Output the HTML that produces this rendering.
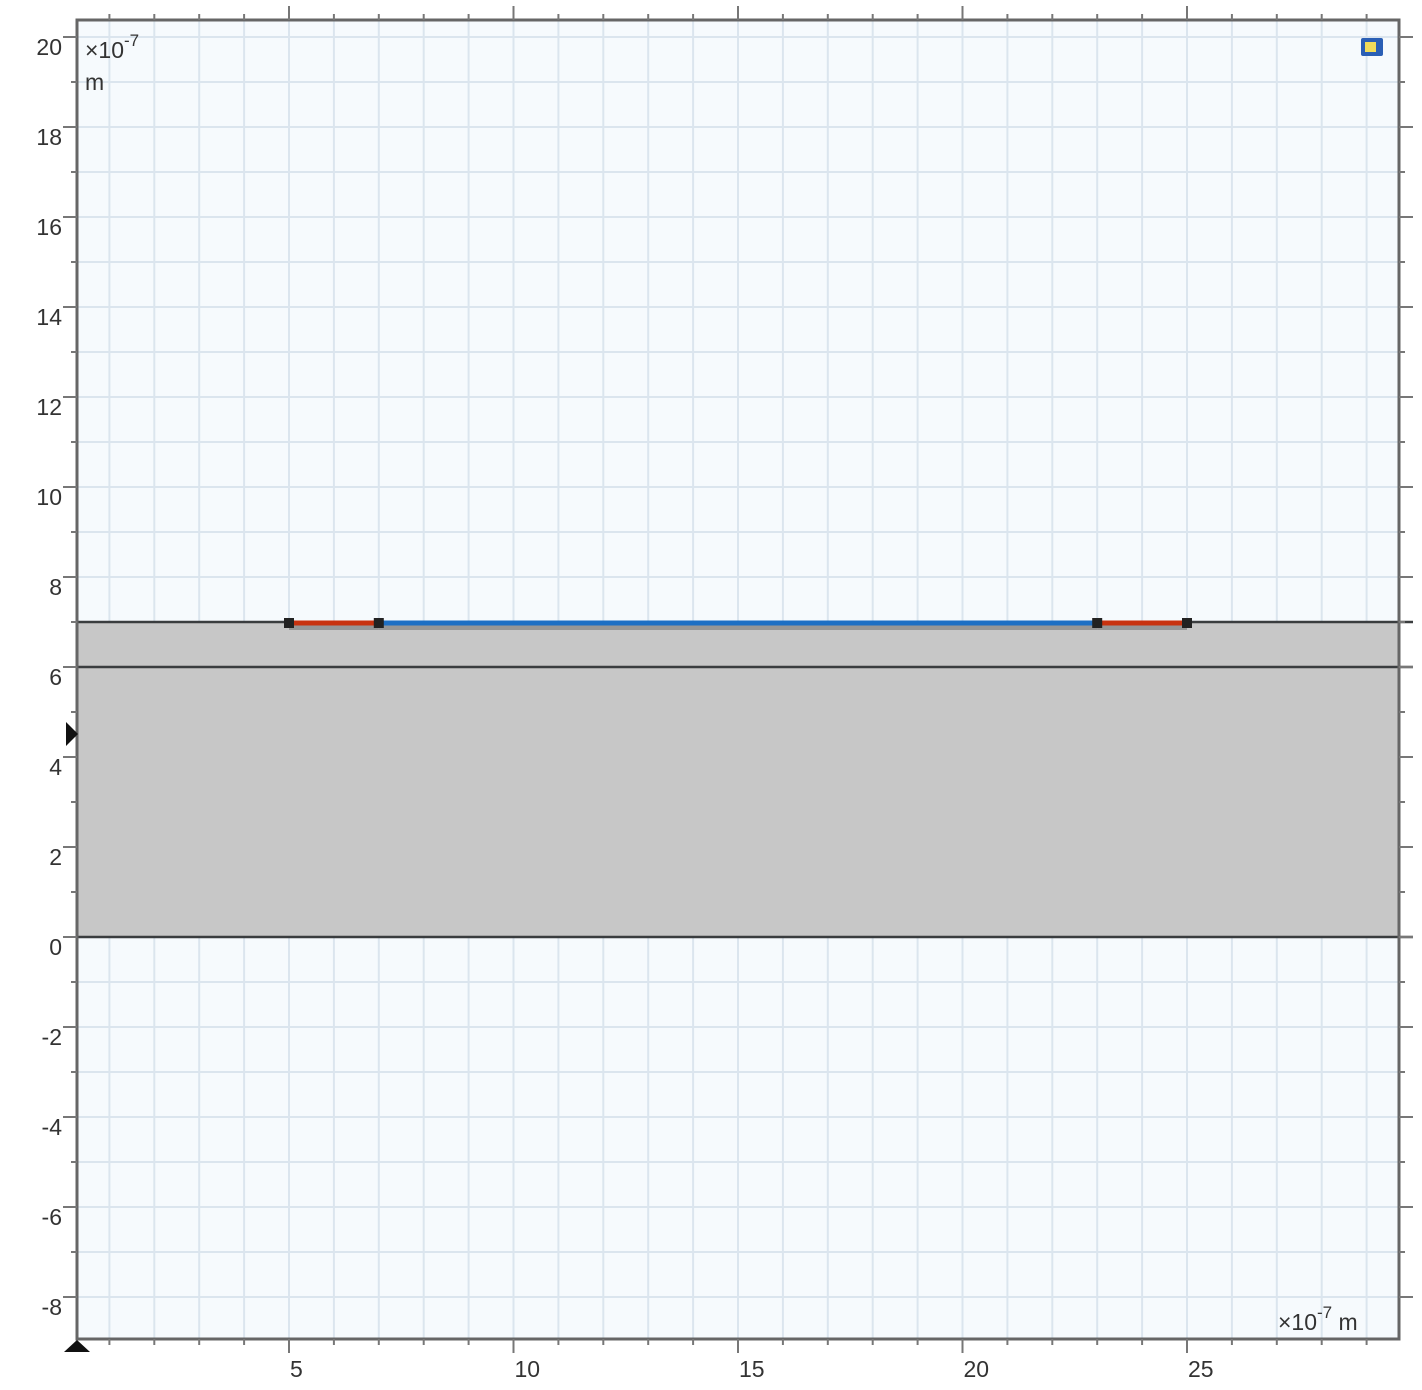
<!DOCTYPE html>
<html><head><meta charset="utf-8"><style>
html,body{margin:0;padding:0;background:#fff;}
svg{display:block;font-family:"Liberation Sans",sans-serif;}
</style></head><body>
<svg id="chart" width="1422" height="1390" viewBox="0 0 1422 1390" xmlns="http://www.w3.org/2000/svg"></svg>
<script>
const xTicks=[5,10,15,20,25];
const yTicks=[-8,-6,-4,-2,0,2,4,6,8,10,12,14,16,18,20];
const domains=[{name:'substrate',x0:0,x1:30,y0:0,y1:6},{name:'layer',x0:0,x1:30,y0:6,y1:7}];
const segStart=[5,7,23];
const segEnd=[7,23,25];
const segLevel=[7,7,7];
const segColor=['#c8320f','#1d6fc4','#c8320f'];
const L=77,R=1399,T=20,B=1339;
const X=v=>64.5+v*44.9;
const Y=v=>937-v*45;
const xMin=(L-64.5)/44.9,xMax=(R-64.5)/44.9,yMin=(937-B)/45,yMax=(937-T)/45;
const svg=document.getElementById('chart');
const NS='http://www.w3.org/2000/svg';
function mk(t,a,p){const e=document.createElementNS(NS,t);for(const k in a)e.setAttribute(k,a[k]);(p||svg).appendChild(e);return e;}
let e;
e=mk('rect',{x:L,y:T,width:R-L,height:B-T,fill:'#f6fafd'});


const grid=mk('g',{stroke:'#dbe5ee','stroke-width':2});


for(let v=Math.ceil(xMin);v<=xMax;v++){mk('line',{x1:X(v),x2:X(v),y1:T,y2:B},grid);}
for(let v=Math.ceil(yMin);v<=yMax;v++){mk('line',{y1:Y(v),y2:Y(v),x1:L,x2:R},grid);}
domains.forEach(d=>{
  e=mk('rect',{x:Math.max(X(d.x0),L),y:Y(d.y1),width:Math.min(X(d.x1),R)-Math.max(X(d.x0),L),height:Y(d.y0)-Y(d.y1),fill:'#c7c7c7'});
  
  
});
[0,6,7].forEach(v=>{
  e=mk('line',{x1:L,x2:R+14,y1:Y(v),y2:Y(v),stroke:'#3a3d3f','stroke-width':v===6?2.5:2.5});
  
  
});
segStart.forEach((s,i)=>{
  e=mk('rect',{x:X(s),y:Y(segLevel[i])+2,width:X(segEnd[i])-X(s),height:6,fill:'#8a8a8a',opacity:0.8});
  
  
  e=mk('line',{x1:X(s),x2:X(segEnd[i]),y1:Y(segLevel[i])+1,y2:Y(segLevel[i])+1,stroke:segColor[i],'stroke-width':5});
  
  
});
[...new Set(segStart.concat(segEnd))].forEach(v=>{
  e=mk('rect',{x:X(v)-5,y:Y(7)-4,width:10,height:10,fill:'#222'});
  
  
});
e=mk('rect',{x:L,y:T,width:R-L,height:B-T,fill:'none',stroke:'#666','stroke-width':3});


const ticks=mk('g',{stroke:'#777','stroke-width':2});


for(let v=Math.ceil(yMin);v<=yMax;v++){const maj=v%2===0;
  mk('line',{x1:L-(maj?14:6),x2:L,y1:Y(v),y2:Y(v)},ticks);
  mk('line',{x1:R,x2:R+(maj?14:6),y1:Y(v),y2:Y(v)},ticks);}
for(let v=Math.ceil(xMin);v<=xMax;v++){const maj=v%5===0;
  mk('line',{x1:X(v),x2:X(v),y1:T-(maj?14:6),y2:T},ticks);
  mk('line',{x1:X(v),x2:X(v),y1:B,y2:B+(maj?14:6)},ticks);}
yTicks.forEach(v=>{
  e=mk('text',{x:62,y:Y(v)+18,'text-anchor':'end','font-size':23,fill:'#333'});
  e.textContent=v;
  
  
});
xTicks.forEach(v=>{
  e=mk('text',{x:X(v)+1,y:1377,'font-size':23,fill:'#333'});
  e.textContent=v;
  
  
});
e=mk('text',{x:85,y:58,'font-size':23,fill:'#333'});e.innerHTML='×10<tspan dy="-12" font-size="17">-7</tspan>';


e=mk('text',{x:85,y:90,'font-size':23,fill:'#333'});e.textContent='m';


e=mk('text',{x:1278,y:1330,'font-size':23,fill:'#333'});e.innerHTML='×10<tspan dy="-12" font-size="17">-7</tspan><tspan dy="12"> m</tspan>';


e=mk('rect',{x:1361,y:38,width:22,height:18,fill:'#2a5fb5',rx:2});


mk('rect',{x:1365,y:42,width:11,height:10,fill:'#f1dc5a'});
e=mk('path',{d:'M66 722 L78 734 L66 746 Z',fill:'#111'});


e=mk('path',{d:'M64 1352 L77 1340 L90 1352 Z',fill:'#111'});


</script>
</body></html>
